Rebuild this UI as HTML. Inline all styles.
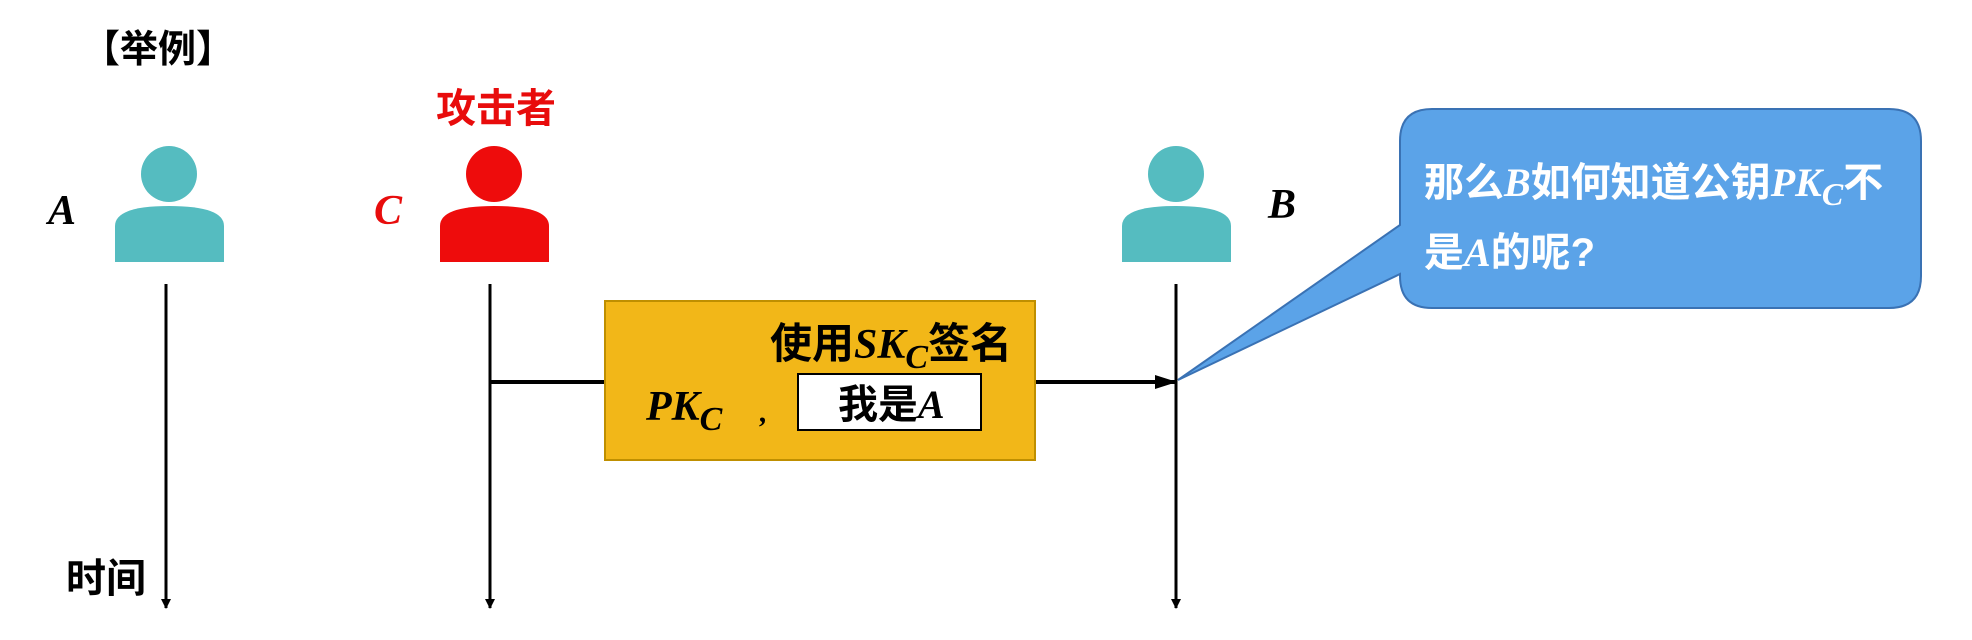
<!DOCTYPE html>
<html><head><meta charset="utf-8"><style>
html,body{margin:0;padding:0;background:#fff}
svg{display:block}
text{font-family:"Liberation Sans","Noto Sans CJK SC",sans-serif;font-weight:bold}
.m{font-family:"Liberation Serif","Noto Serif CJK SC",serif;font-style:italic;font-weight:bold}
</style></head><body>
<svg width="1972" height="640" viewBox="0 0 1972 640" xmlns="http://www.w3.org/2000/svg">
<defs>
<marker id="ah" markerWidth="10" markerHeight="10" refX="9" refY="5" orient="auto" markerUnits="userSpaceOnUse"><path d="M0,0 L10,5 L0,10 z" fill="#000"/></marker>
<marker id="ah2" markerWidth="22" markerHeight="14" refX="21" refY="7" orient="auto" markerUnits="userSpaceOnUse"><path d="M0,0 L22,7 L0,14 z" fill="#000"/></marker>
</defs>
<text x="82" y="62" font-size="38">【举例】</text>
<text x="436" y="122" font-size="40" fill="#E80C0C">攻击者</text>
<text x="48" y="224" font-size="42" class="m">A</text>
<text x="374" y="224" font-size="42" class="m" fill="#E80C0C">C</text>
<text x="1268" y="218" font-size="42" class="m">B</text>
<g fill="#55BCC0">
<circle cx="169" cy="174" r="28"/>
<path d="M115,262 L115,226 Q115,206 169,206 Q224,206 224,226 L224,262 z"/>
<circle cx="1176" cy="174" r="28"/>
<path d="M1122,262 L1122,226 Q1122,206 1176,206 Q1231,206 1231,226 L1231,262 z"/>
</g>
<g fill="#EE0C0C">
<circle cx="494" cy="174" r="28"/>
<path d="M440,262 L440,226 Q440,206 494,206 Q549,206 549,226 L549,262 z"/>
</g>
<g stroke="#000" stroke-width="3">
<line x1="166" y1="284" x2="166" y2="608" marker-end="url(#ah)"/>
<line x1="490" y1="284" x2="490" y2="608" marker-end="url(#ah)"/>
<line x1="1176" y1="284" x2="1176" y2="608" marker-end="url(#ah)"/>
<line x1="490" y1="382" x2="606" y2="382" stroke-width="4"/>
<line x1="1035" y1="382" x2="1176" y2="382" stroke-width="4" marker-end="url(#ah2)"/>
</g>
<text x="66" y="592" font-size="40">时间</text>
<rect x="605" y="301" width="430" height="159" fill="#F2B718" stroke="#BF8F00" stroke-width="2"/>
<text x="770" y="358" font-size="42">使用<tspan class="m">SK</tspan><tspan class="m" font-size="34" dy="10">C</tspan><tspan dy="-10">签名</tspan></text>
<text x="646" y="420" font-size="42" class="m">PK<tspan font-size="34" dy="10">C</tspan></text>
<text x="760" y="422" font-size="30" class="m">,</text>
<rect x="798" y="374" width="183" height="56" fill="#fff" stroke="#000" stroke-width="2"/>
<text x="838" y="418" font-size="40">我是<tspan class="m">A</tspan></text>
<path d="M1432,109 L1889,109 Q1921,109 1921,141 L1921,276 Q1921,308 1889,308 L1432,308 Q1400,308 1400,276 L1400,274 L1178,380 L1400,225 L1400,141 Q1400,109 1432,109 z" fill="#5BA3E8" stroke="#3A72B4" stroke-width="2"/>
<text x="1424" y="196" font-size="40" fill="#fff">那么<tspan class="m">B</tspan>如何知道公钥<tspan class="m">PK</tspan><tspan class="m" font-size="32" dy="9">C</tspan><tspan dy="-9">不</tspan></text>
<text x="1424" y="266" font-size="40" fill="#fff">是<tspan class="m">A</tspan>的呢?</text>
</svg>
</body></html>
